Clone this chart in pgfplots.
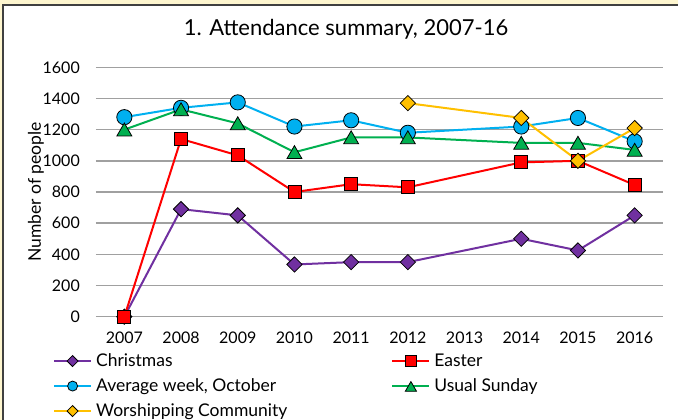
\documentclass[border=0pt]{standalone}
\usepackage{fontspec}
\setmainfont{Lato}
\usepackage{pgfplots}
\pgfplotsset{compat=1.18}
\definecolor{cream}{HTML}{FEF6CF}
\definecolor{bordergray}{HTML}{404040}
\definecolor{gridgray}{HTML}{A0A0A0}
\definecolor{cpurple}{HTML}{7030A0}
\definecolor{cred}{HTML}{FF0000}
\definecolor{cblue}{HTML}{00B0F0}
\definecolor{cgreen}{HTML}{00B050}
\definecolor{cgold}{HTML}{FFC000}
\newcommand\ls{\rule[-4pt]{0pt}{17pt}}
\begin{document}
\begin{tikzpicture}[x=1pt,y=1pt]
\useasboundingbox (0,0) rectangle (678,420);
\fill[cream] (0,0) rectangle (678,420);
\fill[white] (3,0) rectangle (678,415);
\draw[bordergray, line width=1.5pt] (3.2,0) -- (3.2,415.2) -- (678,415.2);
\begin{axis}[
  at={(96pt,103.3pt)}, anchor=south west,
  scale only axis, width=567pt, height=249.4pt,
  xmin=-0.5, xmax=9.5, ymin=0, ymax=1600,
  xtick={0,1,2,3,4,5,6,7,8,9},
  xticklabels={2007,2008,2009,2010,2011,2012,2013,2014,2015,2016},
  ytick={0,200,400,600,800,1000,1200,1400,1600},
  ymajorgrids, grid style={gridgray, line width=1.5pt},
  axis line style={draw=none}, tick style={draw=none},
  /pgf/number format/assume math mode=true,
  /pgf/number format/1000 sep={},
  ticklabel style={font=\fontsize{16}{19}\selectfont},
  yticklabel style={inner sep=0pt, xshift=-16pt},
  xticklabel style={inner sep=0pt, yshift=-15pt},
  title={1. Attendance summary, 2007-16},
  title style={font=\fontsize{22}{26}\selectfont, at={(axis description cs:0.441,1.13)}, anchor=center, inner sep=0pt},
  ylabel={Number of people},
  ylabel style={font=\fontsize{17.5}{20}\selectfont, at={(axis description cs:-0.106,0.5)}, anchor=center, rotate=0, inner sep=0pt},
  legend columns=2,
  legend cell align=left,
  legend style={at={(axis description cs:-0.076,-0.140)}, anchor=north west, draw=none, fill=none,
    font=\fontsize{17.5}{20}\selectfont, inner sep=0pt, row sep=6.5pt,
    /tikz/every odd column/.append style={column sep=2pt},
    /tikz/every even column/.append style={column sep=102pt}},
  legend image code/.code={%
    \draw[#1, mark=none] (0pt,0pt) -- (37pt,0pt);
    \draw[#1, only marks] plot coordinates {(18.5pt,0pt)};},
  every axis plot/.append style={line width=2pt},
]
\addplot[cpurple, mark=square*, mark size=5.4pt, mark options={rotate=45, fill=cpurple, draw=black, line width=0.8pt},
  legend image post style={mark size=3.9pt}]
  coordinates {(0,0) (1,690) (2,650) (3,335) (4,350) (5,350) (7,500) (8,425) (9,650)};
\addlegendentry{\ls Christmas}
\addplot[cred, mark=square*, mark size=6.5pt, mark options={fill=cred, draw=black, line width=0.8pt},
  legend image post style={mark size=5.2pt}]
  coordinates {(0,0) (1,1140) (2,1035) (3,800) (4,850) (5,830) (7,990) (8,1000) (9,845)};
\addlegendentry{\ls Easter}
\addplot[cblue, mark=*, mark size=7.6pt, mark options={fill=cblue, draw=black, line width=0.8pt},
  legend image post style={mark size=5pt}]
  coordinates {(0,1280) (1,1340) (2,1375) (3,1220) (4,1260) (5,1180) (7,1220) (8,1275) (9,1125)};
\addlegendentry{\ls Average week, October}
\addplot[cgreen, mark=triangle*, mark size=8.6pt, mark options={fill=cgreen, draw=black, line width=0.8pt, yshift=-2pt},
  legend image post style={mark size=6.5pt}]
  coordinates {(0,1200) (1,1330) (2,1240) (3,1055) (4,1150) (5,1150) (7,1115) (8,1115) (9,1070)};
\addlegendentry{\ls Usual Sunday}
\addplot[cgold, mark=square*, mark size=5.4pt, mark options={rotate=45, fill=cgold, draw=black, line width=0.8pt},
  legend image post style={mark size=3.9pt}]
  coordinates {(5,1370) (7,1275) (8,1000) (9,1210)};
\addlegendentry{\ls Worshipping Community}
\end{axis}
\end{tikzpicture}
\end{document}
